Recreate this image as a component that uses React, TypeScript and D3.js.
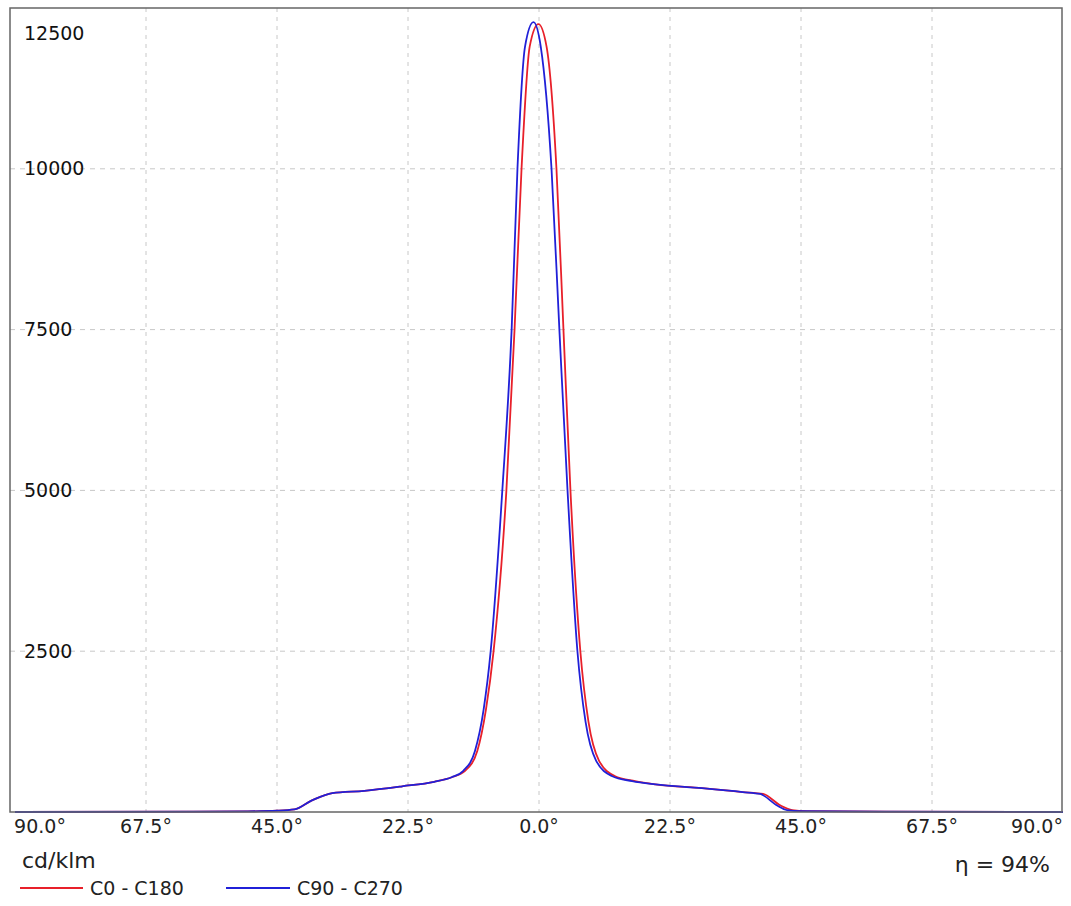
import React from "react";
import * as d3 from "d3";

// angles (deg) and intensities (cd/klm)
const anglesBlue = [-90, -60, -50, -45, -42, -39, -35.5, -30, -23.5, -18, -15, -13, -11, -9.5, -8.3, -6.3, -4.7, -3.7, -2.4, -0.95, 0.3, 2.15, 3.5, 4.9, 6.6, 8, 9.8, 12.5, 16, 20, 28, 35, 38, 40.9, 42.6, 45, 60, 90];
const valuesBlue = [0, 5, 10, 20, 40, 180, 295, 330, 400, 470, 540, 640, 950, 1600, 2500, 5000, 7500, 10000, 11900, 12280, 11900, 10000, 7500, 5000, 2500, 1400, 800, 560, 480, 430, 370, 310, 280, 100, 30, 15, 5, 0];
const anglesRed = [-90, -60, -50, -45, -42, -39, -35.5, -30, -23.5, -18, -15, -12.7, -10.6, -9.1, -7.8, -5.6, -4.2, -3.0, -1.6, -0.1, 1.3, 3.0, 4.2, 5.4, 7.1, 8.5, 10.3, 13, 16.5, 20, 28, 35, 38.5, 41.5, 43.5, 46, 60, 90];
const valuesRed = [0, 5, 10, 20, 40, 180, 295, 330, 400, 470, 540, 640, 950, 1600, 2500, 5000, 7500, 10000, 11900, 12250, 11900, 10000, 7500, 5000, 2500, 1400, 800, 560, 480, 430, 370, 310, 280, 100, 30, 15, 5, 0];
const xTicks = [-90, -67.5, -45, -22.5, 0, 22.5, 45, 67.5, 90];
const yTicks = [2500, 5000, 7500, 10000];

const W = 1071, H = 906;
const L = 10, R = 1062, T = 8, B = 812;
const font = "DejaVu Sans, Verdana, sans-serif";

export default function App() {
  const x = d3.scaleLinear().domain([-90, 90]).range([L + 5, R + 1]);
  const y = d3.scaleLinear().domain([0, 12500]).range([B, T]);
  const line = d3.line<[number, number]>()
    .x(d => x(d[0])).y(d => y(d[1])).curve(d3.curveMonotoneX);
  const red = line(anglesRed.map((a, i) => [a, valuesRed[i]]) as [number, number][]) || "";
  const blue = line(anglesBlue.map((a, i) => [a, valuesBlue[i]]) as [number, number][]) || "";

  return (
    <svg width={W} height={H} style={{ position: "absolute", left: 0, top: 0, background: "#fff" }} fontFamily={font}>
      {xTicks.slice(1, -1).map(t => (
        <line key={"gx" + t} x1={x(t)} x2={x(t)} y1={T} y2={B} stroke="#c8c8c8" strokeDasharray="4,5" />
      ))}
      {yTicks.map(t => (
        <line key={"gy" + t} x1={L} x2={R} y1={y(t)} y2={y(t)} stroke="#c8c8c8" strokeDasharray="5,5" />
      ))}
      {yTicks.map(t => (
        <text key={"ty" + t} x={24} y={y(t)} dy="0.35em" fontSize={19} fill="#111">
          {t}
        </text>
      ))}
      <text x={24} y={33} dy="0.35em" fontSize={19} fill="#111">12500</text>
      <path d={red} fill="none" stroke="#e8202a" strokeWidth={1.8} />
      <path d={blue} fill="none" stroke="#2020d8" strokeWidth={1.8} />
      <rect x={L} y={T} width={R - L} height={B - T} fill="none" stroke="#666" strokeWidth={1.5} />
      {xTicks.map((t, i) => (
        <text key={"tx" + t} x={i === 0 ? 40 : i === xTicks.length - 1 ? 1037 : x(t)} y={833} textAnchor="middle" fontSize={19} fill="#222">
          {Math.abs(t).toFixed(1) + "°"}
        </text>
      ))}
      <text x={22} y={868} fontSize={22} fill="#222">cd/klm</text>
      <text x={1050} y={872} textAnchor="end" fontSize={22} fill="#222">η = 94%</text>
      <line x1={20} x2={83} y1={888} y2={888} stroke="#e8202a" strokeWidth={2} />
      <text x={90} y={895} fontSize={19} fill="#222">C0 - C180</text>
      <line x1={226} x2={290} y1={888} y2={888} stroke="#2020d8" strokeWidth={2} />
      <text x={297} y={895} fontSize={19} fill="#222">C90 - C270</text>
    </svg>
  );
}
